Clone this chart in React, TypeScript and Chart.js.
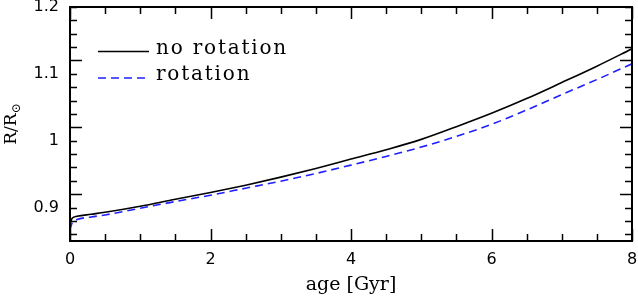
import React, { useEffect, useRef } from "react";
import { Chart, registerables } from "chart.js";

Chart.register(...registerables);

const ages = [0, 0.03, 0.1, 0.3, 0.5, 1, 1.5, 2, 2.5, 3, 3.5, 4, 4.5, 5, 5.5, 6, 6.5, 7, 7.5, 8];
const noRotation = [0.876, 0.884, 0.887, 0.89, 0.893, 0.902, 0.9125, 0.9225, 0.9335, 0.9455, 0.9585, 0.9725, 0.9865, 1.002, 1.021, 1.041, 1.063, 1.087, 1.1115, 1.1375];
const rotation = [0.866, 0.877, 0.882, 0.886, 0.889, 0.899, 0.909, 0.9185, 0.929, 0.9395, 0.951, 0.9635, 0.9765, 0.9905, 1.0065, 1.0245, 1.046, 1.069, 1.0915, 1.115];
const seriesLabels = ["no rotation", "rotation"];
const xTicks = [0, 2, 4, 6, 8];
const yTicks = [0.9, 1, 1.1, 1.2];

const zeroPad = (s: any) => {
  s.paddingTop = 0;
  s.paddingBottom = 0;
  s.paddingLeft = 0;
  s.paddingRight = 0;
};

const framePlugin = {
  id: "frame",
  afterDraw(chart: any) {
    const { ctx, chartArea: a, scales } = chart;
    const xs = scales.x;
    const ys = scales.y;
    ctx.save();
    ctx.strokeStyle = "#000";
    ctx.lineWidth = 1.5;
    for (let i = 0; i <= 16; i++) {
      const v = i * 0.5;
      const px = Math.round(xs.getPixelForValue(v)) + 0.5;
      const major = i % 4 === 0;
      const len = major ? 12 : 7;
      ctx.beginPath();
      ctx.moveTo(px, a.bottom);
      ctx.lineTo(px, a.bottom - len);
      ctx.moveTo(px, a.top);
      ctx.lineTo(px, a.top + len);
      ctx.stroke();
    }
    for (let i = 0; i <= 17; i++) {
      const v = 0.86 + i * 0.02;
      const py = Math.round(ys.getPixelForValue(v)) + 0.5;
      const major = (i + 2) % 5 === 0;
      const len = major ? 12 : 7;
      ctx.beginPath();
      ctx.moveTo(a.left, py);
      ctx.lineTo(a.left + len, py);
      ctx.moveTo(a.right, py);
      ctx.lineTo(a.right - len, py);
      ctx.stroke();
    }
    ctx.lineWidth = 2;
    ctx.strokeRect(a.left, a.top, a.right - a.left, a.bottom - a.top);

    // legend
    const ds = chart.data.datasets;
    const lx0 = 98, lx1 = 149, tx = 156;
    const rows = [51.5, 78];
    ctx.font = "20px 'DejaVu Serif'";
    (ctx as any).letterSpacing = "1.8px";
    ctx.textBaseline = "middle";
    ctx.textAlign = "left";
    ds.forEach((d: any, i: number) => {
      ctx.beginPath();
      ctx.strokeStyle = d.borderColor;
      ctx.lineWidth = 1.5;
      ctx.setLineDash(d.borderDash || []);
      ctx.moveTo(lx0, rows[i]);
      ctx.lineTo(lx1, rows[i]);
      ctx.stroke();
      ctx.setLineDash([]);
      ctx.fillStyle = "#000";
      ctx.fillText(d.label, tx, rows[i] - 3);
    });
    (ctx as any).letterSpacing = "0px";

    // x-axis title
    ctx.font = "19px 'DejaVu Serif'";
    ctx.textAlign = "center";
    ctx.textBaseline = "alphabetic";
    ctx.fillText("age [Gyr]", (a.left + a.right) / 2, 290);

    // y-axis title R/R_sun
    ctx.save();
    ctx.translate(16, 124);
    ctx.rotate(-Math.PI / 2);
    ctx.font = "17px 'DejaVu Serif'";
    ctx.textAlign = "left";
    ctx.textBaseline = "alphabetic";
    const main = "R/R";
    const w = ctx.measureText(main).width;
    ctx.font = "12px 'DejaVu Serif'";
    const sw = ctx.measureText("\u2299").width;
    const start = -(w + sw) / 2;
    ctx.font = "17px 'DejaVu Serif'";
    ctx.fillText(main, start, 0);
    ctx.font = "12px 'DejaVu Serif'";
    ctx.fillText("\u2299", start + w, 4);
    ctx.restore();

    ctx.restore();
  },
};

export default function App() {
  const ref = useRef<HTMLCanvasElement | null>(null);
  useEffect(() => {
    if (!ref.current) return;
    const chart = new Chart(ref.current, {
      type: "line",
      data: {
        datasets: [
          {
            label: seriesLabels[0],
            data: ages.map((a, i) => ({ x: a, y: noRotation[i] })),
            borderColor: "#000000",
            borderWidth: 1.6,
            pointRadius: 0,
            cubicInterpolationMode: "monotone",
          },
          {
            label: seriesLabels[1],
            data: ages.map((a, i) => ({ x: a, y: rotation[i] })),
            borderColor: "#1f1fff",
            borderWidth: 1.6,
            borderDash: [8, 5],
            pointRadius: 0,
            cubicInterpolationMode: "monotone",
          },
        ],
      },
      options: {
        responsive: false,
        animation: false,
        layout: { padding: { left: 0, right: 6, top: 7, bottom: 0 } },
        plugins: { legend: { display: false }, tooltip: { enabled: false } },
        scales: {
          x: {
            type: "linear",
            min: 0,
            max: 8,
            grid: { display: false, drawTicks: false },
            border: { display: false },
            afterBuildTicks: (s: any) => {
              s.ticks = xTicks.map((v) => ({ value: v }));
            },
            afterFit: (s: any) => {
              s.height = 55;
              zeroPad(s);
            },
            ticks: {
              padding: 9,
              color: "#000",
              maxRotation: 0,
              font: { family: "'DejaVu Sans'", size: 16 },
              callback: (v: any) => String(v),
            },
          },
          y: {
            type: "linear",
            min: 0.85,
            max: 1.2,
            grid: { display: false, drawTicks: false },
            border: { display: false },
            afterBuildTicks: (s: any) => {
              s.ticks = yTicks.map((v) => ({ value: v }));
            },
            afterFit: (s: any) => {
              s.width = 70;
              zeroPad(s);
            },
            ticks: {
              padding: 11,
              color: "#000",
              font: { family: "'DejaVu Sans'", size: 16 },
              callback: (v: any) => String(Math.round(v * 10) / 10),
            },
          },
        },
      },
      plugins: [framePlugin],
    });
    return () => chart.destroy();
  }, []);
  return (
    <div style={{ position: "absolute", left: 0, top: 0, width: 638, height: 296, background: "#fff" }}>
      <canvas ref={ref} width={638} height={296} />
    </div>
  );
}
